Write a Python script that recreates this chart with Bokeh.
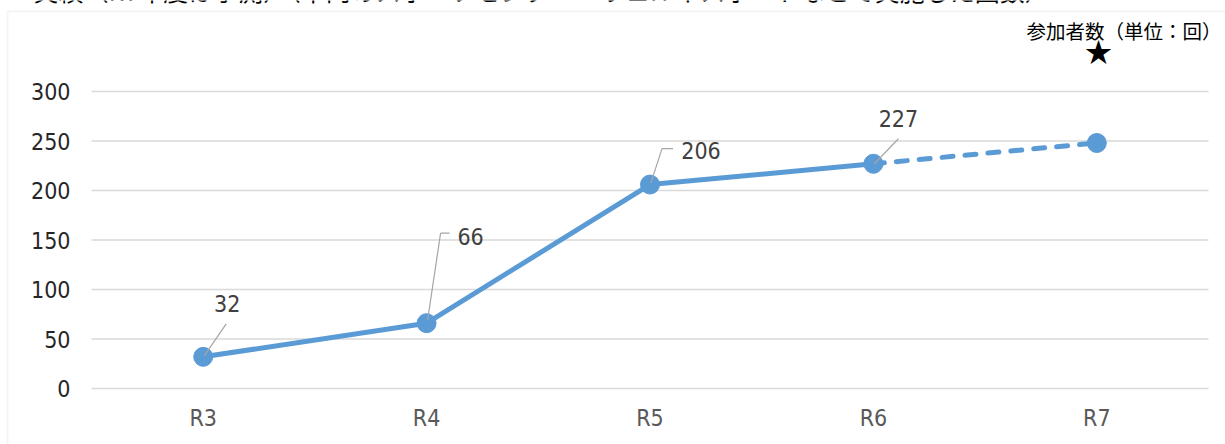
from bokeh.plotting import figure
from bokeh.models import Range1d, FixedTicker, LabelSet, Label, BoxAnnotation, ColumnDataSource
from bokeh.core.properties import value
from bokeh.embed import file_html
from bokeh.resources import INLINE

# ---- data ----
categories = ["R3", "R4", "R5", "R6", "R7"]
values = [32, 66, 206, 227, 248]
n_actual = 4                      # R3..R6 actual, R7 forecast
label_texts = ["32", "66", "206", "227"]
y_ticks = [0, 50, 100, 150, 200, 250, 300]
title_text = "実績（R7年度は予測）（市内のスポーツセンター・ウェルネスポートなどで実施した回数）"
unit_text = "参加者数（単位：回）"

BLUE = "#5B9BD5"
NARROW = "'DejaVu Sans Condensed', 'Liberation Sans Narrow', sans-serif"
CJK = "Noto Sans CJK JP"

# ---- layout (pixels) ----
W, H = 1225, 444
PLOT_L, PLOT_R = 91, 1208        # horizontal extent of the category band
ZERO_Y, TOP_TICK_Y = 388, 91      # pixel rows of 0 and of 300
px_per_cat = (PLOT_R - PLOT_L) / len(categories)
px_per_unit = (ZERO_Y - TOP_TICK_Y) / 300.0


def X(px):   # canvas x -> data x (categories sit at 0,1,2,...)
    return (px - PLOT_L) / px_per_cat - 0.5


def Y(px):   # canvas y -> data y
    return (ZERO_Y - px) / px_per_unit


xpos = list(range(len(categories)))

p = figure(x_range=Range1d(X(0), X(W)), y_range=Range1d(Y(H), Y(0)),
           width=W, height=H, output_backend="svg", toolbar_location=None,
           min_border_left=0, min_border_right=0, min_border_top=0, min_border_bottom=0)
p.title.visible = False
p.outline_line_color = None
p.background_fill_color = "white"
p.border_fill_color = "white"
p.xgrid.visible = False
p.ygrid.visible = False

# outer box
p.add_layout(BoxAnnotation(left=X(7), right=X(W + 40), top=Y(11), bottom=Y(H + 40),
                           fill_alpha=0, line_color="#d9d9d9", line_width=2,
                           level="underlay"))

# horizontal grid lines at the y ticks, spanning the category band
p.segment(x0=[-0.5] * len(y_ticks), x1=[len(categories) - 0.5] * len(y_ticks),
          y0=y_ticks, y1=y_ticks, line_color="#d9d9d9", line_width=1.5)

# axes drawn at fixed locations inside the frame
p.xaxis.fixed_location = 0
p.yaxis.fixed_location = -0.5
p.xaxis.ticker = FixedTicker(ticks=xpos)
p.xaxis.major_label_overrides = {i: c for i, c in zip(xpos, categories)}
p.yaxis.ticker = FixedTicker(ticks=y_ticks)
for ax in (p.xaxis[0], p.yaxis[0]):
    ax.axis_line_color = None
    ax.major_tick_line_color = None
    ax.minor_tick_line_color = None
    ax.major_label_text_font = NARROW
    ax.major_label_text_font_size = "23px"
p.yaxis.major_label_text_color = "#262626"
p.yaxis.major_label_standoff = 15
p.xaxis.major_label_text_color = "#595959"
p.xaxis.major_label_standoff = 10

# series
p.line(xpos[:n_actual], values[:n_actual], line_width=5, color=BLUE)
p.line(xpos[n_actual - 1:], values[n_actual - 1:], line_width=5, color=BLUE,
       line_dash="11 12", line_cap="round")
p.scatter(xpos, values, size=19, color=BLUE)

# data labels (offsets in px from each point)
text_dx = [24, 44, 51, 25]
text_dy = [53, 87, 34, 45]
lab_src = ColumnDataSource(dict(x=xpos[:n_actual], y=values[:n_actual], text=label_texts,
                                dx=text_dx, dy=text_dy))
p.add_layout(LabelSet(x="x", y="y", text="text", source=lab_src,
                      x_offset="dx", y_offset="dy",
                      text_align="center", text_baseline="middle",
                      text_font=value(NARROW), text_font_size="23px", text_color="#404040"))

# leader lines (px offsets from the labelled point)
leader_idx = [0, 1, 1, 2, 2, 3]
leader_from = [(1, 1), (1, 3), (14, 90), (1, 2), (12, 36), (1, 0)]
leader_to = [(23, 33), (14, 90), (23, 90), (12, 36), (23, 36), (25, 25)]
x0 = [xpos[i] + a[0] / px_per_cat for i, a in zip(leader_idx, leader_from)]
y0 = [values[i] + a[1] / px_per_unit for i, a in zip(leader_idx, leader_from)]
x1 = [xpos[i] + b[0] / px_per_cat for i, b in zip(leader_idx, leader_to)]
y1 = [values[i] + b[1] / px_per_unit for i, b in zip(leader_idx, leader_to)]
p.segment(x0=x0, y0=y0, x1=x1, y1=y1, line_color="#a6a6a6", line_width=1.2)

# header texts
p.add_layout(Label(x=X(33), y=Y(7), text=title_text, text_font=CJK, text_font_size="25px",
                   text_baseline="bottom", text_color="#000000"))
p.add_layout(Label(x=X(1221), y=Y(30), text=unit_text, text_font=CJK, text_font_size="19.5px",
                   text_align="right", text_baseline="middle", text_color="#000000"))
p.add_layout(Label(x=X(1098), y=Y(50), text="★", text_font=CJK, text_font_size="27px",
                   text_align="center", text_baseline="middle", text_color="#000000"))

open("out.html", "w").write(file_html(p, INLINE))
